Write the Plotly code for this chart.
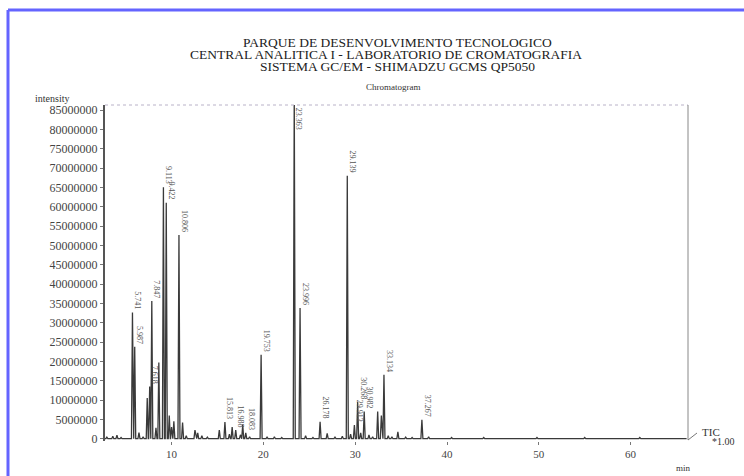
import plotly.graph_objects as go

# Peak table of the total ion chromatogram: retention time (min), intensity (counts)
retention_min = [
    2.95, 3.60, 4.05, 4.50, 5.741, 5.987, 6.45, 6.90, 7.35, 7.618, 7.847,
    8.30, 8.613, 9.113, 9.422, 9.75, 10.00, 10.25, 10.806, 11.20, 11.60,
    12.55, 12.85, 13.30, 13.90, 15.20, 15.813, 16.30, 16.60, 16.988, 17.50,
    17.75, 18.083, 18.50, 19.753, 20.40, 21.20, 22.00, 23.363, 23.996, 24.60,
    25.40, 26.178, 26.95, 27.80, 28.60, 29.139, 29.50, 29.913, 30.268, 30.60,
    30.982, 31.50, 31.90, 32.45, 32.85, 33.134, 33.60, 34.00, 34.65, 35.50,
    36.20, 37.267, 38.00, 40.50, 44.00, 49.80, 55.00, 61.00,
]
intensity_m = [
    0.4, 0.6, 0.9, 0.3, 32.6, 23.8, 1.6, 0.5, 10.5, 13.5, 35.6,
    2.8, 19.7, 65.0, 61.0, 6.0, 3.0, 4.5, 52.7, 4.2, 0.8,
    2.2, 1.5, 0.8, 0.4, 2.2, 4.3, 1.2, 3.0, 2.2, 1.0,
    3.6, 1.5, 0.5, 21.7, 0.4, 0.5, 0.3, 90.0, 33.8, 0.8,
    0.3, 4.4, 1.4, 0.4, 0.6, 68.0, 1.2, 3.5, 9.5, 1.5,
    7.0, 1.0, 0.5, 7.0, 6.0, 16.5, 0.8, 0.5, 1.8, 0.4,
    0.3, 4.9, 0.5, 0.3, 0.3, 0.3, 0.3, 0.3,
]
labelled = [
    False, False, False, False, True, True, False, False, False, True, True,
    False, False, True, True, False, False, False, True, False, False,
    False, False, False, False, False, True, False, False, True, False,
    False, True, False, True, False, False, False, True, True, False,
    False, True, False, False, False, True, False, True, True, False,
    True, False, False, False, False, True, False, False, False, False,
    False, True, False, False, False, False, False, False,
]

y_ticks = list(range(0, 85000001, 5000000))
x_ticks = [10, 20, 30, 40, 50, 60]

X_RANGE = [2.75, 66.25]
Y_RANGE = [-600000, 86300000]
HALF_WIDTH = 0.11
SERIF = "Liberation Serif, Times New Roman, serif"

W, H = 744, 476
ML, MR, MT, MB = 105, 56, 105, 35
PW, PH = W - ML - MR, H - MT - MB


def px(x, y):
    """Pixel position on the page -> paper coordinates of the plot area."""
    return (x - ML) / PW, (H - MB - y) / PH


# Build the trace: each peak is a narrow triangle rising from the baseline
xs, ys = [X_RANGE[0]], [0]
for t, h in zip(retention_min, intensity_m):
    xs += [t - HALF_WIDTH, t, t + HALF_WIDTH]
    ys += [0, h * 1e6, 0]
xs.append(66.1)
ys.append(0)

fig = go.Figure()
fig.add_trace(go.Scatter(
    x=xs, y=ys, mode="lines",
    line=dict(color="#3a3a3a", width=1.3),
    hoverinfo="skip", showlegend=False,
))

annotations = []
for t, h, lab in zip(retention_min, intensity_m, labelled):
    if not lab:
        continue
    val = h * 1e6
    clipped = val > Y_RANGE[1]
    annotations.append(dict(
        x=t, y=min(val, Y_RANGE[1]), xref="x", yref="y",
        text=f"{t:.3f}", showarrow=False, textangle=90,
        xanchor="center", yanchor="top" if clipped else "bottom",
        xshift=5, yshift=-1 if clipped else 1,
        font=dict(family=SERIF, size=8, color="#555"),
    ))


def px_note(text, x, y, size, xanchor="center", color="#222", family=SERIF):
    xp, yp = px(x, y)
    annotations.append(dict(
        x=xp, y=yp, xref="paper", yref="paper",
        text=text, showarrow=False, xanchor=xanchor, yanchor="middle",
        font=dict(family=family, size=size, color=color),
    ))


px_note("PARQUE DE DESENVOLVIMENTO TECNOLOGICO", 397, 42, 13.5)
px_note("CENTRAL ANALITICA I - LABORATORIO DE CROMATOGRAFIA", 386, 54.5, 13.5)
px_note("SISTEMA GC/EM - SHIMADZU GCMS QP5050", 397, 67, 13.5)
px_note("Chromatogram", 393, 87, 9, color="#333")
px_note("intensity", 33, 98, 10, xanchor="left", color="#333")
px_note("TIC", 700, 432, 11, xanchor="left", color="#333")
px_note("*1.00", 710, 441, 10, xanchor="left", color="#333")
px_note("min", 674, 468, 9, xanchor="left", color="#333")


def px_line(x0, y0, x1, y1, color, width, dash="solid"):
    a, b = px(x0, y0)
    c, d = px(x1, y1)
    return dict(type="line", xref="paper", yref="paper", x0=a, y0=b, x1=c, y1=d,
                line=dict(color=color, width=width, dash=dash))


shapes = [
    # window frame edges
    px_line(8, 10, W, 10, "#6464ff", 3),
    px_line(8, 10, 8, H, "#6464ff", 3),
    # top and right plot frame
    px_line(ML, MT, W - MR, MT, "#b9b2c8", 1, "dot"),
    px_line(W - MR, MT, W - MR, H - MB - 1, "#888", 1),
    # TIC leader
    px_line(688, 440, 697, 433, "#777", 1),
]

fig.update_layout(
    width=W, height=H,
    margin=dict(l=ML, r=MR, t=MT, b=MB),
    paper_bgcolor="white", plot_bgcolor="white",
    annotations=annotations, shapes=shapes,
    xaxis=dict(
        range=X_RANGE, tickvals=x_ticks, ticktext=[str(v) for v in x_ticks],
        showgrid=False, zeroline=False, showline=False,
        ticks="outside", ticklen=3, tickcolor="#777",
        tickfont=dict(family=SERIF, size=11, color="#444"),
    ),
    yaxis=dict(
        range=Y_RANGE, tickvals=y_ticks, ticktext=[str(v) for v in y_ticks],
        showgrid=False, zeroline=False, showline=True,
        linecolor="#555", linewidth=2,
        ticks="outside", ticklen=3, tickcolor="#777",
        tickfont=dict(family=SERIF, size=12, color="#444"),
    ),
)

fig.write_html("out.html")
